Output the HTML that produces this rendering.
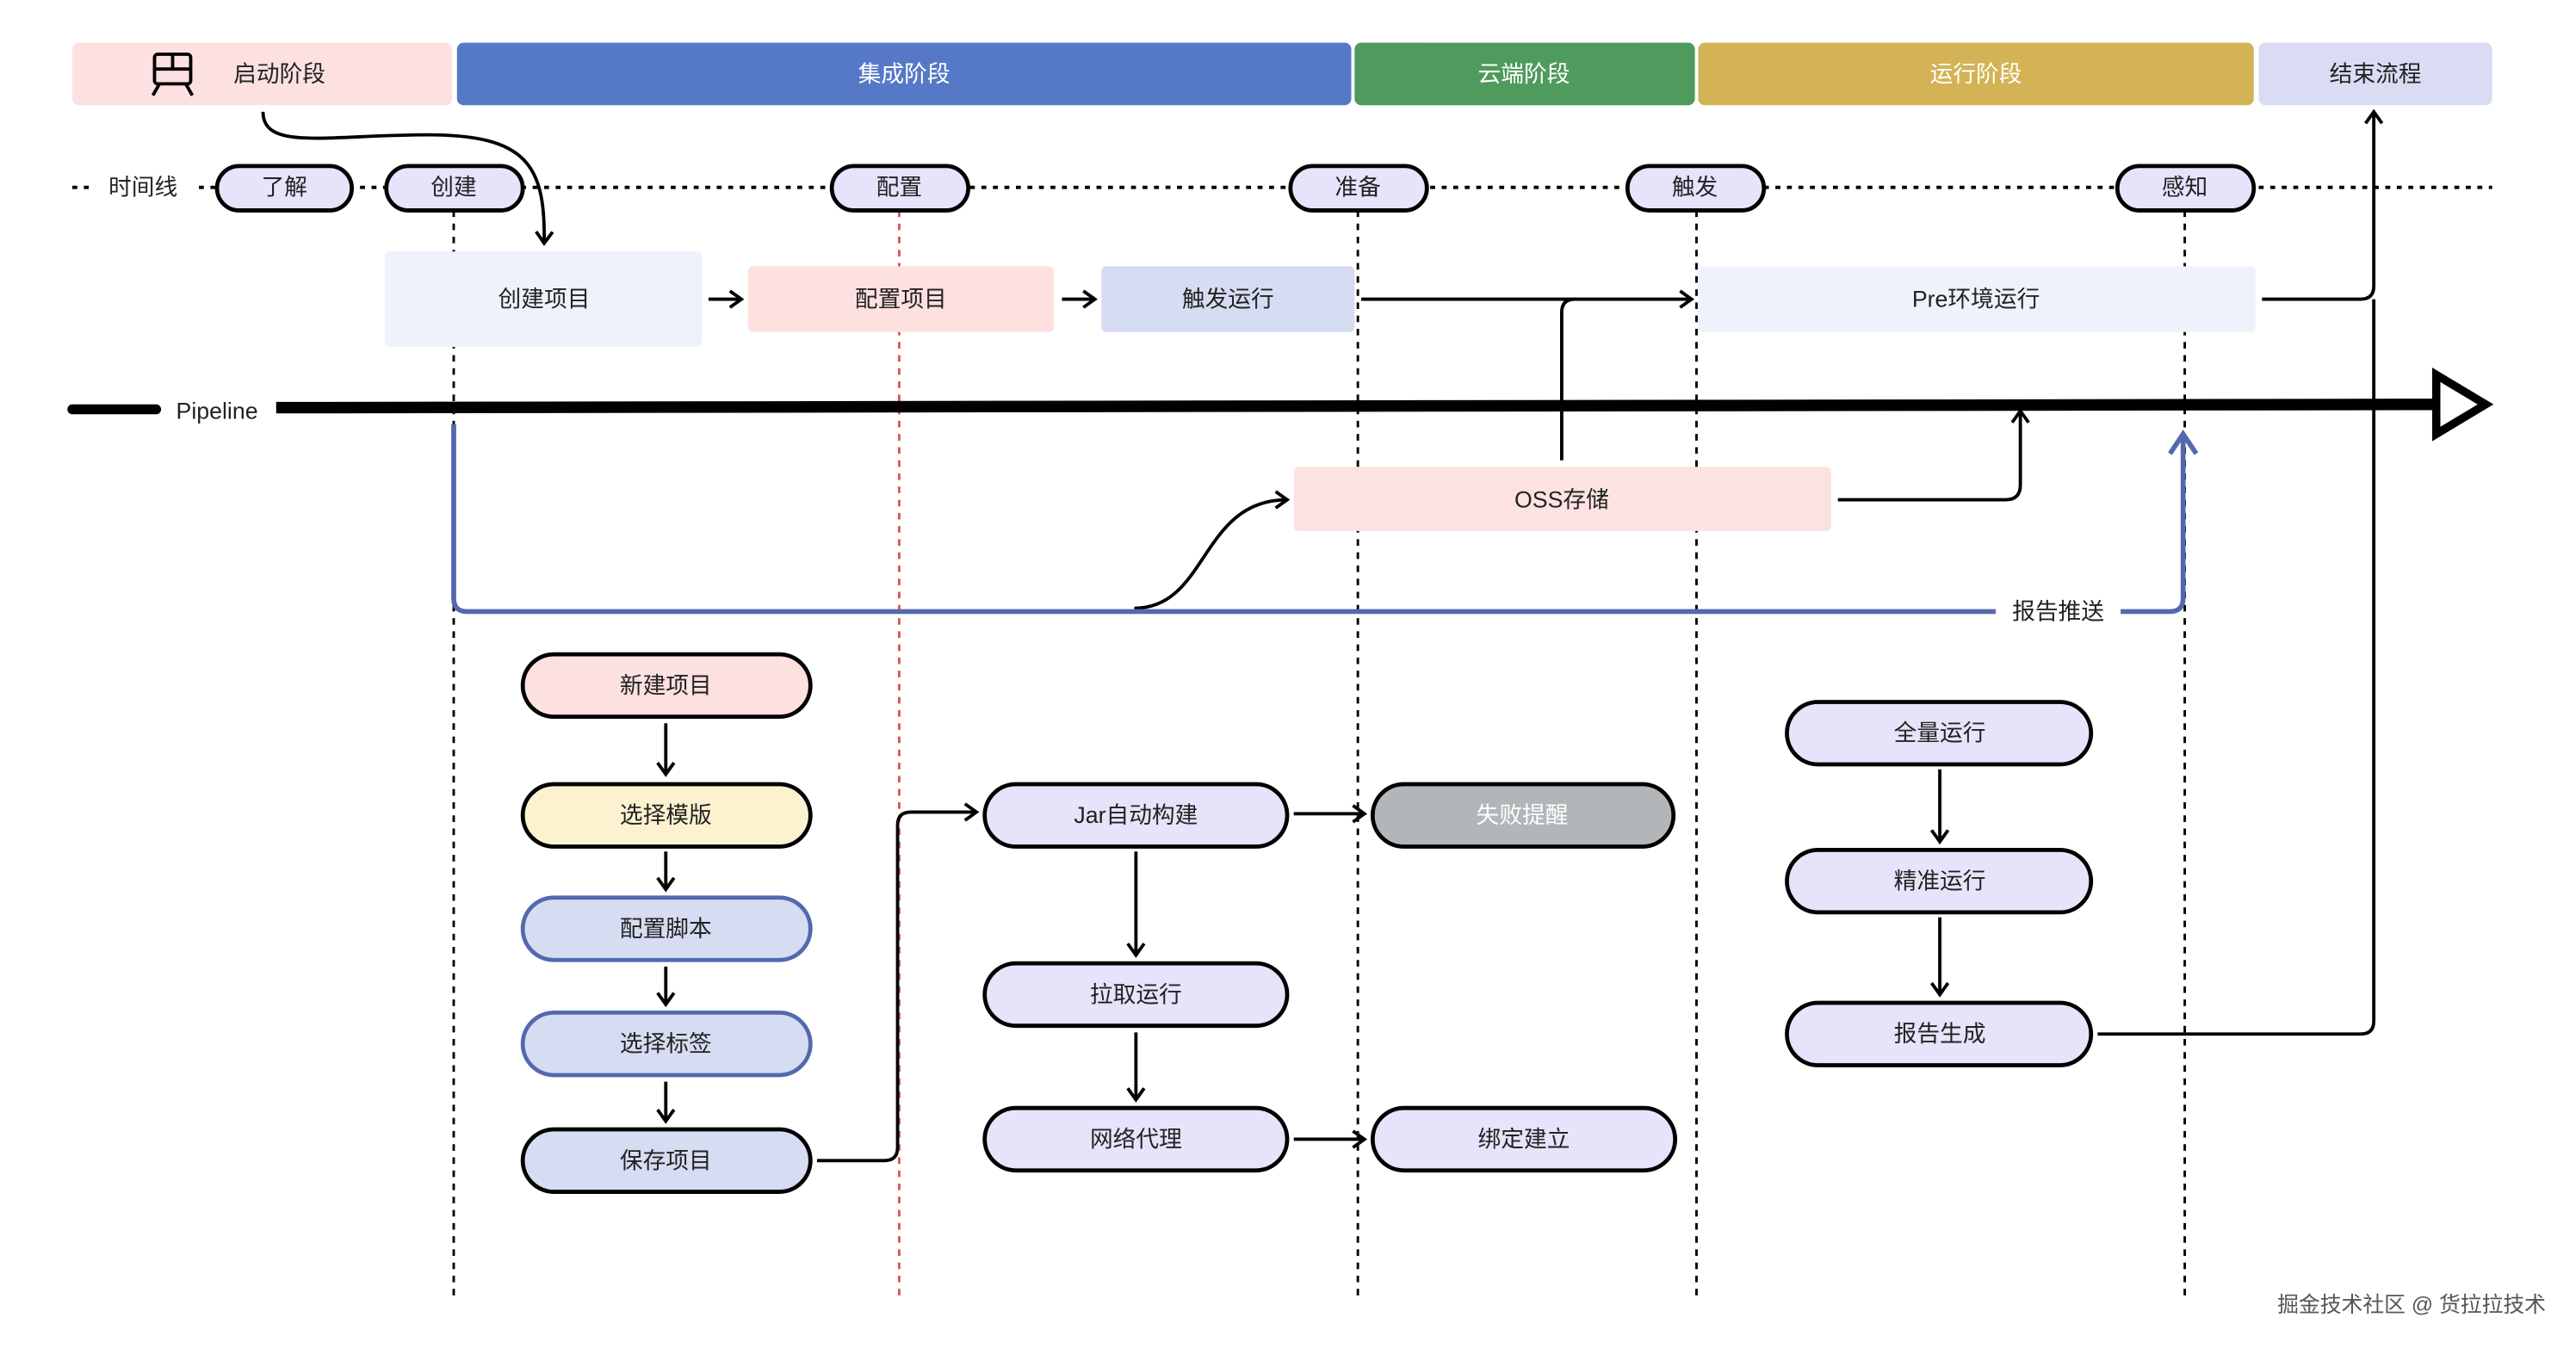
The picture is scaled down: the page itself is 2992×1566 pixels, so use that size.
<!DOCTYPE html>
<html><head><meta charset="utf-8"><style>
html,body{margin:0;padding:0;background:#fff;}
svg{display:block;}
text{font-family:"Liberation Sans","Noto Sans CJK SC",sans-serif;font-size:14px;fill:#222;text-anchor:middle;dominant-baseline:central;}
</style></head><body>
<svg width="2992" height="1566" viewBox="0 0 1567 820" preserveAspectRatio="none" xmlns="http://www.w3.org/2000/svg">
<defs>
<marker id="a" markerWidth="12" markerHeight="12" refX="9" refY="6" orient="auto" markerUnits="userSpaceOnUse"><path d="M2,1 L9,6 L2,11" fill="none" stroke="#000" stroke-width="2"/></marker>
<marker id="b" markerWidth="18" markerHeight="18" refX="14" refY="9" orient="auto" markerUnits="userSpaceOnUse"><path d="M2,1 L14,9 L2,17" fill="none" stroke="#5468ae" stroke-width="3"/></marker>
</defs>
<rect width="1567" height="820" fill="#fff"/>
<!-- header -->
<rect x="44" y="26" width="231" height="38" rx="4" fill="#fde0e0"/>
<rect x="278" y="26" width="544" height="38" rx="4" fill="#5579c6"/>
<rect x="824" y="26" width="207" height="38" rx="4" fill="#4f9a5d"/>
<rect x="1033" y="26" width="338" height="38" rx="4" fill="#d4b356"/>
<rect x="1374" y="26" width="142" height="38" rx="4" fill="#d9dcf2"/>
<g fill="none" stroke="#000" stroke-width="2"><rect x="94" y="33" width="22" height="18" rx="2"/><line x1="94" y1="42" x2="116" y2="42"/><line x1="105" y1="33" x2="105" y2="42"/><line x1="97" y1="51" x2="93" y2="58"/><line x1="113" y1="51" x2="117" y2="58"/></g>
<text x="170" y="45">启动阶段</text>
<text x="550" y="45" style="fill:#fff">集成阶段</text>
<text x="927" y="45" style="fill:#fff">云端阶段</text>
<text x="1202" y="45" style="fill:#fff">运行阶段</text>
<text x="1445" y="45">结束流程</text>
<!-- timeline -->
<line x1="44" y1="114" x2="1516" y2="114" stroke="#000" stroke-width="2" stroke-dasharray="3,4"/>
<rect x="56" y="104" width="64" height="20" fill="#fff"/>
<text x="87" y="114">时间线</text>
<g fill="none" stroke="#000" stroke-width="1.5" stroke-dasharray="4,4">
<line x1="276" y1="128" x2="276" y2="792"/><line x1="826" y1="128" x2="826" y2="792"/><line x1="1032" y1="128" x2="1032" y2="792"/><line x1="1329" y1="128" x2="1329" y2="792"/>
<line x1="547" y1="128" x2="547" y2="792" stroke="#e05555"/>
</g>
<g fill="#e6e3fa" stroke="#000" stroke-width="2.5">
<rect x="132" y="101" width="82" height="27" rx="13.5"/><rect x="235" y="101" width="83" height="27" rx="13.5"/><rect x="506" y="101" width="83" height="27" rx="13.5"/><rect x="785" y="101" width="83" height="27" rx="13.5"/><rect x="990" y="101" width="83" height="27" rx="13.5"/><rect x="1288" y="101" width="83" height="27" rx="13.5"/>
</g>
<text x="173" y="114">了解</text><text x="276" y="114">创建</text><text x="547" y="114">配置</text><text x="826" y="114">准备</text><text x="1031" y="114">触发</text><text x="1329" y="114">感知</text>
<!-- row boxes -->
<rect x="234" y="153" width="193" height="58" rx="3" fill="#eef2fa"/>
<rect x="455" y="162" width="186" height="40" rx="3" fill="#fde0e0"/>
<rect x="670" y="162" width="154" height="40" rx="3" fill="#d6dcf1"/>
<rect x="1033" y="162" width="339" height="40" rx="3" fill="#eef2fa"/>
<text x="331" y="182">创建项目</text><text x="548" y="182">配置项目</text><text x="747" y="182">触发运行</text><text x="1202" y="182">Pre环境运行</text>
<g fill="none" stroke="#000" stroke-width="2" marker-end="url(#a)">
<path d="M160,68 C160,92 200,82 260,82 C320,82 332,100 331,148"/>
<line x1="431" y1="182" x2="451" y2="182"/>
<line x1="646" y1="182" x2="666" y2="182"/>
<line x1="828" y1="182" x2="1029" y2="182"/>
<path d="M1376,182 L1436,182 Q1444,182 1444,174 L1444,68"/>
<path d="M1118,304 L1220,304 Q1229,304 1229,295 L1229,250"/>
<path d="M690,370 C735,370 730,304 783,304"/>
<path d="M497,706 L538,706 Q546,706 546,698 L546,502 Q546,494 554,494 L594,494"/>
<line x1="787" y1="495" x2="830" y2="495"/>
<line x1="787" y1="693" x2="830" y2="693"/>
<line x1="405" y1="440" x2="405" y2="471"/><line x1="405" y1="518" x2="405" y2="541"/><line x1="405" y1="588" x2="405" y2="611"/><line x1="405" y1="658" x2="405" y2="682"/>
<line x1="691" y1="518" x2="691" y2="581"/><line x1="691" y1="628" x2="691" y2="669"/>
<line x1="1180" y1="468" x2="1180" y2="512"/><line x1="1180" y1="558" x2="1180" y2="605"/>
</g>
<path d="M1276,629 L1436,629 Q1444,629 1444,621 L1444,182" fill="none" stroke="#000" stroke-width="2"/>
<path d="M950,280 L950,190 Q950,182 958,182" fill="none" stroke="#000" stroke-width="2"/>
<!-- pipeline -->
<line x1="44" y1="249" x2="95" y2="249" stroke="#000" stroke-width="6" stroke-linecap="round"/>
<text x="132" y="250">Pipeline</text>
<line x1="168" y1="248" x2="1484" y2="246" stroke="#000" stroke-width="7"/>
<path d="M1482,228 L1512,246 L1482,264 Z" fill="#fff" stroke="#000" stroke-width="5" stroke-linejoin="miter"/>
<!-- blue -->
<path d="M276,258 L276,364 Q276,372 284,372 L1214,372" fill="none" stroke="#5468ae" stroke-width="3"/>
<path d="M1290,372 L1320,372 Q1328,372 1328,364 L1328,264" fill="none" stroke="#5468ae" stroke-width="3" marker-end="url(#b)"/>
<text x="1252" y="372">报告推送</text>
<rect x="787" y="284" width="327" height="39" rx="3" fill="#fde2e2"/>
<text x="950" y="304">OSS存储</text>
<!-- left pills -->
<rect x="318" y="398" width="175" height="38" rx="19" fill="#fde0e0" stroke="#000" stroke-width="2.5"/>
<rect x="318" y="477" width="175" height="38" rx="19" fill="#fdf2d0" stroke="#000" stroke-width="2.5"/>
<rect x="318" y="546" width="175" height="38" rx="19" fill="#d6dcf1" stroke="#5468ae" stroke-width="2.5"/>
<rect x="318" y="616" width="175" height="38" rx="19" fill="#d6dcf1" stroke="#5468ae" stroke-width="2.5"/>
<rect x="318" y="687" width="175" height="38" rx="19" fill="#d6dcf1" stroke="#000" stroke-width="2.5"/>
<text x="405" y="417">新建项目</text><text x="405" y="496">选择模版</text><text x="405" y="565">配置脚本</text><text x="405" y="635">选择标签</text><text x="405" y="706">保存项目</text>
<g fill="#e6e3fa" stroke="#000" stroke-width="2.5">
<rect x="599" y="477" width="184" height="38" rx="19"/><rect x="599" y="586" width="184" height="38" rx="19"/><rect x="599" y="674" width="184" height="38" rx="19"/>
<rect x="835" y="674" width="184" height="38" rx="19"/>
<rect x="1087" y="427" width="185" height="38" rx="19"/><rect x="1087" y="517" width="185" height="38" rx="19"/><rect x="1087" y="610" width="185" height="38" rx="19"/>
</g>
<rect x="835" y="477" width="183" height="38" rx="19" fill="#b3b6b8" stroke="#000" stroke-width="2.5"/>
<text x="691" y="496">Jar自动构建</text><text x="691" y="605">拉取运行</text><text x="691" y="693">网络代理</text>
<text x="926" y="496" style="fill:#fff">失败提醒</text><text x="927" y="693">绑定建立</text>
<text x="1180" y="446">全量运行</text><text x="1180" y="536">精准运行</text><text x="1180" y="629">报告生成</text>
<text x="1467" y="794" style="font-size:13px;fill:#555">掘金技术社区 @ 货拉拉技术</text>
</svg>
</body></html>
